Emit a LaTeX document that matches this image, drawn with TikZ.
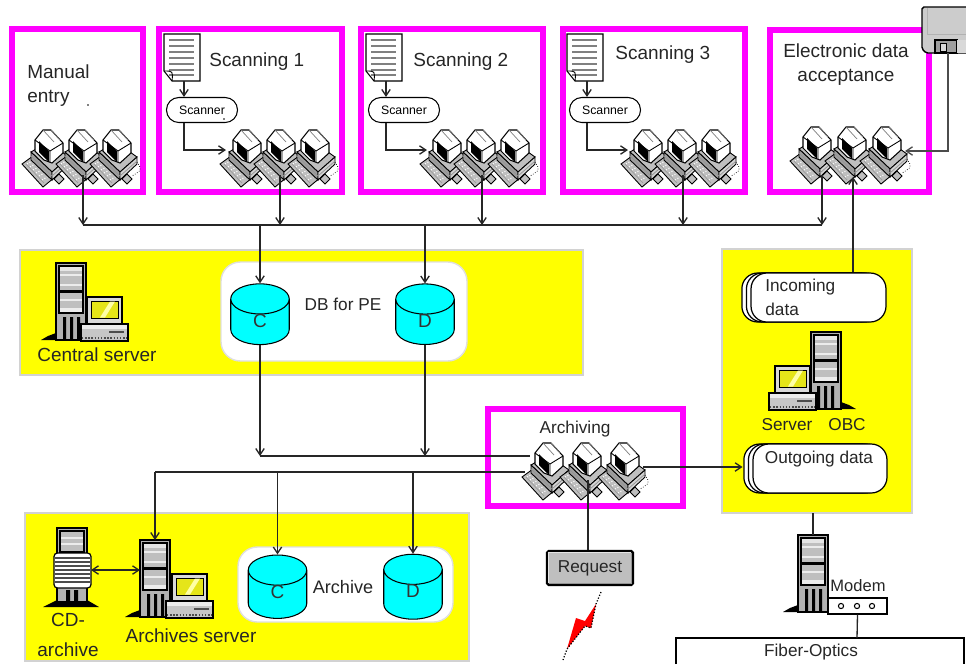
\documentclass[tikz,border=0pt]{standalone}
\usepackage{fontspec}
\setmainfont{Liberation Sans}
\usetikzlibrary{arrows.meta,shapes.geometric,shadows}

\definecolor{framecol}{RGB}{255,0,255}
\definecolor{dbcol}{RGB}{0,255,255}
\definecolor{panelcol}{RGB}{255,255,0}

\tikzset{
  frame/.style={draw=framecol,line width=3.4pt},
  panel/.style={draw=gray!35,fill=panelcol,line width=0.8pt},
  whitepanel/.style={draw=gray!25,fill=white,line width=0.8pt,rounded corners=11pt},
  link/.style={line width=0.75pt,draw=black!85},
  lbl/.style={font=\fontsize{10.8}{13.6}\selectfont,text=black!85,inner sep=0pt,align=center},
  lblsmall/.style={lbl,font=\fontsize{9.8}{12.5}\selectfont},
  lblleft/.style={lbl,align=left,anchor=west},
  dbcyl/.style={cylinder,shape border rotate=90,aspect=2.2,draw=black,fill=dbcol,line width=0.6pt,
    minimum height=1.14cm,minimum width=1.17cm,inner sep=0pt,
    font=\fontsize{10.8}{13}\selectfont,text=black!80},
  scanbox/.style={draw=black,fill=white,line width=0.6pt,rounded corners=7pt,minimum width=1.42cm,
    minimum height=0.5cm,inner sep=0pt,font=\fontsize{7}{8}\selectfont},
  databox/.style={draw=black,fill=white,line width=0.7pt,rounded corners=9pt,
    double copy shadow={shadow xshift=-2.6pt,shadow yshift=0pt,draw=black,fill=white}},
  pics/workstation/.style={code={
    % keyboard
    \draw[fill=gray!50,line width=0.5pt] (-25,34)--(-14,26)--(8,47)--(-4,57)--cycle;
    \draw[white,line width=0.6pt,densely dotted] (-20,34)--(-10,28) (-17,37)--(-7,31) (-14,40)--(-3,34)
      (-11,43)--(0,37) (-8,46)--(3,40) (-5,50)--(5,44);
    \draw[gray!80,line width=0.4pt] (-21,34)--(-3,53) (-15,30)--(3,49);
    % base
    \draw[fill=gray!50,line width=0.5pt] (-16,22)--(1,12)--(22,27)--(5,42)--cycle;
    \draw[fill=gray!75,line width=0.5pt] (-16,22)--(-16,30)--(5,50)--(5,42)--cycle;
    \draw[fill=gray!35,line width=0.5pt] (5,42)--(22,27)--(22,34)--(5,50)--cycle;
    \draw[gray!85,line width=0.4pt] (-16,26)--(5,46)--(22,31);
    % monitor
    \draw[fill=white,line width=0.6pt] (-4,0)--(4,0)--(16,13)--(16,23)--(5,33)--(-3,30)--(-12,21)--(-12,10)--cycle;
    \fill[black] (-8,11)--(2,21)--(2,32)--(-8,22)--cycle;
    \draw[line width=0.5pt] (-12,10)--(3,21)--(16,13) (3,21)--(3,32);
    \draw[gray,line width=0.4pt] (-4,0)--(7,12) (4,0)--(13,10);
    % mouse
    \draw[fill=gray!50,line width=0.5pt] (12,44)--(17,49)--(12,54)--(7,49)--cycle;
  }},
  pics/wsrow/.style={code={
    \pic at (0,0) {workstation};
    \pic at (#1,0) {workstation};
    \pic at (2*#1,0) {workstation};
    \draw[line width=0.4pt,densely dotted] (2*#1+22,32)..controls (2*#1+27,40)..(2*#1+17,46);
  }},
  pics/tower/.style={code={
    \fill[black] (-15,77)--(-8,73)--(0,70)--(0,77)--cycle;
    \draw[fill=gray!60,line width=0.9pt] (0,0) rectangle (30,77);
    \draw[fill=gray!50,line width=0.7pt] (3,3) rectangle (27,50);
    \fill[gray!20] (4,4) rectangle (26,8);
    \fill[gray!15] (4,45) rectangle (26,49);
    \fill[black] (4,27) rectangle (26,30);
    \draw[gray!15,line width=0.6pt] (4,12)--(26,12) (4,22)--(26,22) (4,37)--(26,37);
    \fill[black] (7,54) rectangle (10,76) (14,54) rectangle (17,76) (21,54) rectangle (24,76);
  }},
  pics/desktop/.style={code={
    \draw[fill=gray!30,line width=0.8pt] (0,0) rectangle (35,27);
    \draw[fill=panelcol!80!gray,line width=0.5pt] (4,4) rectangle (31,21);
    \fill[panelcol!35!white] (13,20.5)--(23,4.5)--(28,4.5)--(18,20.5)--cycle;
    \draw[fill=gray!45,line width=0.7pt] (-6,27) rectangle (41,44);
    \fill[gray!15] (-5,28) rectangle (40,32);
    \fill[black!70] (22,34) rectangle (37,36);
    \draw[black!70,line width=0.8pt,densely dotted] (-5,41)--(40,41);
  }},
  pics/cdstack/.style={code={
    \fill[black] (-14,79)--(0,72)--(30,72)--(42,79)--cycle;
    \draw[fill=gray!60,line width=0.9pt] (0,0) rectangle (30,74);
    \draw[fill=gray!50,line width=0.7pt] (3,3) rectangle (27,24);
    \draw[gray!15,line width=0.6pt] (4,10)--(26,10) (4,16)--(26,16);
    \draw[fill=white,line width=0.7pt,rounded corners=2pt] (-3,25) rectangle (34,60);
    \foreach \yy in {30,34,38,42,46,50,54}
      \draw[black!70,line width=0.7pt] (-2,\yy)--(33,\yy);
    \fill[black] (9,62) rectangle (13,74) (17,62) rectangle (21,74);
  }},
  pics/document/.style={code={
    \draw[fill=white,line width=0.6pt] (0,0)--(36,0)--(36,47)--(8,47)--(0,37)--cycle;
    \foreach \yy in {6,12,18,24,30,36,41}
      \draw[gray,line width=0.8pt] (5,\yy)--(30,\yy);
    \draw[line width=0.5pt] (0,37)..controls (9,37)..(8,47);
  }},
  pics/floppy/.style={code={
    \draw[fill=gray!40,line width=0.8pt,rounded corners=1pt] (0,0)--(50,0)--(50,46)--(4,46)--(0,42)--cycle;
    \draw[gray!60,line width=0.5pt] (5,1)--(5,27)--(44,27);
    \draw[fill=gray!75,line width=0.7pt] (13,33) rectangle (35,46);
    \fill[gray!30] (35,33) rectangle (44,46);
    \draw[fill=gray!30,line width=0.5pt] (18,36) rectangle (24,44);
  }},
  >={Straight Barb[length=3.6pt,width=4.8pt]},
}

\begin{document}
\begin{tikzpicture}[x=0.02cm,y=-0.02cm]
\useasboundingbox (0,0) rectangle (966,664);
%%%%%%%%%%%%%%%%%%%%%%%%%%%%%%%%
%% yellow panels
%%%%%%%%%%%%%%%%%%%%%%%%%%%%%%%%
\draw[panel] (20,250) rectangle (583,375);
\draw[panel] (722,249) rectangle (912,513);
\draw[panel] (25,513) rectangle (469,661);
\draw[whitepanel] (221,262) rectangle (467,361);
\draw[whitepanel] (238,547) rectangle (453,622);
%%%%%%%%%%%%%%%%%%%%%%%%%%%%%%%%
%% magenta frames
%%%%%%%%%%%%%%%%%%%%%%%%%%%%%%%%
\draw[frame] (12,29) rectangle (143,192);
\draw[frame] (159,29) rectangle (342,192);
\draw[frame] (361,29) rectangle (543,192);
\draw[frame] (563,29) rectangle (745,192);
\draw[frame] (770,30) rectangle (929,192);
\draw[frame] (488,409) rectangle (683,506);
%%%%%%%%%%%%%%%%%%%%%%%%%%%%%%%%
%% manual entry
%%%%%%%%%%%%%%%%%%%%%%%%%%%%%%%%
\node[lblleft] (manualLbl) at (27,86) {Manual\\entry};
\fill (88,105) circle (0.8);
\pic at (47,130) {wsrow=34};
\coordinate (manualOut) at (83,175);
%%%%%%%%%%%%%%%%%%%%%%%%%%%%%%%%
%% scanning 1
%%%%%%%%%%%%%%%%%%%%%%%%%%%%%%%%
\pic at (164,34) {document};
\coordinate (docAOut) at (184,81);
\node[lblleft] (scanALbl) at (209,62) {Scanning 1};
\node[scanbox] (scanA) at (202,110) {Scanner\hspace{5pt}};
\fill (224,119) circle (0.8);
\pic at (245,130) {wsrow=34};
\coordinate (wsAIn) at (226,150);
\coordinate (scanAOut) at (280,175);
\draw[link,->] (docAOut) -- (scanA.north -| docAOut);
\draw[link,->] (scanA.south -| docAOut) |- (wsAIn);
%%%%%%%%%%%%%%%%%%%%%%%%%%%%%%%%
%% scanning 2
%%%%%%%%%%%%%%%%%%%%%%%%%%%%%%%%
\pic at (366,34) {document};
\coordinate (docBOut) at (386,81);
\node[lblleft] (scanBLbl) at (413,62) {Scanning 2};
\node[scanbox] (scanB) at (404,110) {Scanner\hspace{5pt}};
\pic at (445,130) {wsrow=34};
\coordinate (wsBIn) at (427,150);
\coordinate (scanBOut) at (482,175);
\draw[link,->] (docBOut) -- (scanB.north -| docBOut);
\draw[link,->] (scanB.south -| docBOut) |- (wsBIn);
%%%%%%%%%%%%%%%%%%%%%%%%%%%%%%%%
%% scanning 3
%%%%%%%%%%%%%%%%%%%%%%%%%%%%%%%%
\pic at (567,34) {document};
\coordinate (docCOut) at (587,81);
\node[lblleft] (scanCLbl) at (615,55) {Scanning 3};
\node[scanbox] (scanC) at (605,110) {Scanner\hspace{5pt}};
\pic at (646,130) {wsrow=34};
\coordinate (wsCIn) at (628,150);
\coordinate (scanCOut) at (683,175);
\draw[link,->] (docCOut) -- (scanC.north -| docCOut);
\draw[link,->] (scanC.south -| docCOut) |- (wsCIn);
%%%%%%%%%%%%%%%%%%%%%%%%%%%%%%%%
%% electronic data acceptance
%%%%%%%%%%%%%%%%%%%%%%%%%%%%%%%%
\node[lbl] (elecLbl) at (846,65) {Electronic data\\acceptance};
\pic at (815,127) {wsrow=35};
\pic at (922,7) {floppy};
\coordinate (diskOut) at (948,53);
\coordinate (wsEIn) at (905,151);
\coordinate (elecOut) at (822,175);
\coordinate (elecIn) at (853,177);
\draw[link,->,draw=black!70] (diskOut) |- (wsEIn);
%%%%%%%%%%%%%%%%%%%%%%%%%%%%%%%%
%% input bus
%%%%%%%%%%%%%%%%%%%%%%%%%%%%%%%%
\coordinate (busLeft) at (83,225);
\coordinate (busRight) at (822,225);
\draw[link] (busLeft) -- (busRight);
\draw[link,->] (manualOut) -- (busLeft);
\draw[link,->] (scanAOut) -- (scanAOut |- busLeft);
\draw[link,->] (scanBOut) -- (scanBOut |- busLeft);
\draw[link,->] (scanCOut) -- (scanCOut |- busLeft);
\draw[link,->] (elecOut) -- (busRight);
%%%%%%%%%%%%%%%%%%%%%%%%%%%%%%%%
%% central server
%%%%%%%%%%%%%%%%%%%%%%%%%%%%%%%%
\pic at (56,263) {tower};
\pic at (87,297) {desktop};
\node[lbl] (centralLbl) at (97,355) {Central server};
\node[dbcyl] (dbC) at (260,322) {\raisebox{1pt}{C}};
\node[dbcyl] (dbD) at (425,322) {\raisebox{1pt}{D}};
\node[lblsmall] (dbLbl) at (343,304) {DB for PE};
\draw[link,->] (dbC.north |- busLeft) -- (dbC.north);
\draw[link,->] (dbD.north |- busLeft) -- (dbD.north);
%%%%%%%%%%%%%%%%%%%%%%%%%%%%%%%%
%% archiving
%%%%%%%%%%%%%%%%%%%%%%%%%%%%%%%%
\node[lblsmall] (archivingLbl) at (575,429) {Archiving};
\pic at (547,443) {wsrow=38};
\coordinate (archIn) at (530,456);
\coordinate (archOut) at (525,472);
\coordinate (archRight) at (643,467);
\coordinate (archDown) at (588,480);
\draw[link] (dbC.south |- archIn) -- (archIn);
\draw[link,->] (dbC.south) -- (dbC.south |- archIn);
\draw[link,->] (dbD.south) -- (dbD.south |- archIn);
\node[draw=black,line width=1.3pt,fill=gray!50,rounded corners=1pt,inner sep=0pt,minimum width=1.72cm,minimum height=0.68cm,
  font=\fontsize{9.8}{13}\selectfont,text=black!85] (request) at (590,568) {Request};
\draw[gray!85,line width=0.6pt] ([shift={(3,-3)}]request.south west) -- ([shift={(-3,-3)}]request.south east) -- ([shift={(-3,3)}]request.north east);
\draw[gray!20,line width=0.6pt] ([shift={(3,-3)}]request.south west) -- ([shift={(3,3)}]request.north west) -- ([shift={(-3,3)}]request.north east);
\draw[link] (archDown) -- (archDown |- request.north);
%%%%%%%%%%%%%%%%%%%%%%%%%%%%%%%%
%% radio bolt
%%%%%%%%%%%%%%%%%%%%%%%%%%%%%%%%
\fill[red] (596,604)--(591,628)--(585,626)--(567,649)--(576,618)--(585,621)--cycle;
\draw[densely dotted,line width=0.7pt] (601,592)--(596,604)--(591,628)--(585,626)--(567,649)--(563,660);
%%%%%%%%%%%%%%%%%%%%%%%%%%%%%%%%
%% OBC server panel
%%%%%%%%%%%%%%%%%%%%%%%%%%%%%%%%
\node[databox,minimum width=2.7cm,minimum height=0.98cm] (incoming) at (818.5,297.5) {};
\node[lblsmall,align=left,anchor=west] (incomingLbl) at (765,297) {Incoming\\[1pt]data};
\pic[xscale=-1] at (841,332) {tower};
\pic at (775,366) {desktop};
\node[lblsmall] (serverLbl) at (787,425) {Server};
\node[lblsmall] (obcLbl) at (847,425) {OBC};
\node[databox,minimum width=2.68cm,minimum height=0.98cm] (outgoing) at (820,468.5) {};
\node[lblsmall] (outgoingLbl) at (819,459) {Outgoing data};
\draw[link,->] (incoming.north -| elecIn) -- (elecIn);
\draw[link,->] (archRight) -- ([xshift=-5.6pt]outgoing.west |- archRight);
%%%%%%%%%%%%%%%%%%%%%%%%%%%%%%%%
%% archive panel
%%%%%%%%%%%%%%%%%%%%%%%%%%%%%%%%
\pic at (57,528) {cdstack};
\node[lbl] (cdLbl) at (68,635) {CD-\\[3pt]archive};
\pic at (140,540) {tower};
\pic at (172,574) {desktop};
\node[lbl] (archSrvLbl) at (191,636) {Archives server};
\node[dbcyl] (arcC) at (277.5,594.5) {\raisebox{2.5pt}{C}};
\node[dbcyl] (arcD) at (413,594.5) {\raisebox{3.5pt}{D}};
\node[lbl,font=\fontsize{10.3}{13}\selectfont] (arcLbl) at (343,587) {Archive};
\coordinate (cdOut) at (91,570);
\coordinate (srvIn) at (140,570);
\coordinate (srvTop) at (155,540);
\coordinate (outBusLeft) at (155,472);
\draw[link] (outBusLeft) -- (archOut);
\draw[link,->] (outBusLeft) -- (srvTop);
\draw[link,->] (arcC.north |- outBusLeft) -- (arcC.north);
\draw[link,->] (arcD.north |- outBusLeft) -- (arcD.north);
\draw[link,<->] (cdOut) -- (srvIn);
%%%%%%%%%%%%%%%%%%%%%%%%%%%%%%%%
%% modem and fiber
%%%%%%%%%%%%%%%%%%%%%%%%%%%%%%%%
\pic at (798,535) {tower};
\coordinate (towerTop) at (813,535);
\coordinate (panelBottom) at (813,513);
\draw[link] (panelBottom) -- (towerTop);
\node[lblsmall,font=\fontsize{9.4}{12}\selectfont] (modemLbl) at (858,586) {Modem};
\node[draw=black,fill=white,line width=0.6pt,minimum width=1.18cm,minimum height=0.32cm,inner sep=0pt] (modem) at (857.5,606) {};
\draw[line width=0.6pt] (841,606) circle (2.6) (857,606) circle (2.6) (872,606) circle (2.6);
\draw[line width=0.7pt] (676,664) |- (964,638) -- (964,664);
\coordinate (fiberTop) at (857,638);
\draw[link] (modem.south) -- (fiberTop);
\node[lblsmall] (fiberLbl) at (811,652) {Fiber-Optics};
\end{tikzpicture}
\end{document}
